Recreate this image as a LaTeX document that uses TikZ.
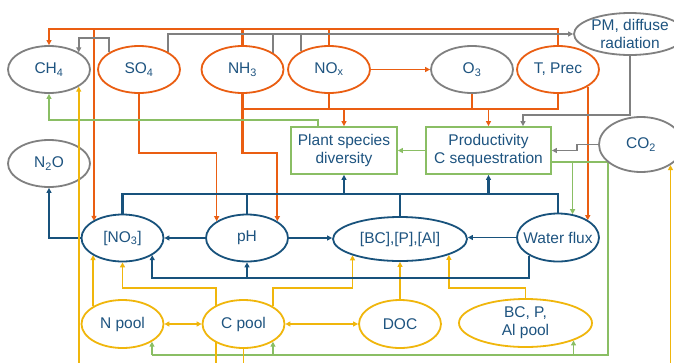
\documentclass[tikz,border=0pt]{standalone}
\usepackage{fontspec}
\setmainfont{Liberation Sans}
\usetikzlibrary{arrows.meta,shapes.geometric}
\pgfdeclarelayer{wires}
\pgfsetlayers{wires,main}
\definecolor{drv}{RGB}{234,94,18}
\definecolor{atm}{RGB}{128,128,128}
\definecolor{soil}{RGB}{24,82,124}
\definecolor{veg}{RGB}{138,190,100}
\definecolor{pool}{RGB}{240,182,12}
\definecolor{ink}{RGB}{30,84,128}

\begin{document}
\begin{tikzpicture}[x=1pt,y=-1pt,
  font=\fontsize{15.5}{18}\selectfont,
  ell/.style={ellipse, draw, line width=1.8pt, fill=white, text=ink, align=center,
    minimum width=82pt, minimum height=47pt, inner xsep=-45pt, inner ysep=-5pt},
  box/.style={rectangle, draw=veg, line width=1.8pt, fill=white, text=ink, align=center,
    minimum height=47pt, inner sep=0pt},
  wire/.style={line width=1.6pt},
  heavy/.style={line width=2.2pt},
  arr/.style={-{Triangle[length=5pt,width=5pt]}},
  arrs/.style={{Triangle[length=5pt,width=5pt]}-{Triangle[length=5pt,width=5pt]}},
]
\useasboundingbox (0,0) rectangle (674,362);

% drivers and atmosphere
\node[ell, draw=atm] (ch4) at (49,69.5) {CH\textsubscript{4}};
\node[ell, draw=drv] (so4) at (139,69.5) {SO\textsubscript{4}};
\node[ell, draw=drv] (nh3) at (242.5,69.5) {NH\textsubscript{3}};
\node[ell, draw=drv] (nox) at (329,69.5) {NO\textsubscript{x}};
\node[ell, draw=atm] (o3) at (472,69.5) {O\textsubscript{3}};
\node[ell, draw=drv] (tp) at (558,69.5) {T, Prec};
\node[ell, draw=atm, minimum width=112pt, minimum height=42pt] (pm) at (630,34) {PM, diffuse\\radiation};

% vegetation
\node[ell, draw=atm] (n2o) at (49,163.5) {N\textsubscript{2}O};
\node[box, minimum width=106pt] (plant) at (344,150.5) {Plant species\\diversity};
\node[box, minimum width=125pt] (prod) at (488.5,150.5) {Productivity\\C sequestration};
\node[ell, draw=atm, minimum width=84pt, minimum height=55pt] (co2) at (641,144.5) {CO\textsubscript{2}};

% soil solution
\node[ell, draw=soil] (no3) at (122.5,238) {[NO\textsubscript{3}]};
\node[ell, draw=soil] (ph) at (247,238) {pH};
\node[ell, draw=soil, minimum width=134pt, minimum height=44pt] (bc) at (400,239) {[BC],[P],[Al]};
\node[ell, draw=soil, minimum height=48pt] (wf) at (558,237.5) {Water flux};

% soil pools
\node[ell, draw=pool, minimum height=48pt] (np) at (122.5,324) {N pool};
\node[ell, draw=pool, minimum height=48pt] (cp) at (243.5,324) {C pool};
\node[ell, draw=pool, minimum height=48pt] (doc) at (400,324) {DOC};
\node[ell, draw=pool, minimum width=133pt, minimum height=48pt] (bcp) at (525.5,323) {BC, P,\\Al pool};

% routing levels
\coordinate (yTop) at (0,29);
\coordinate (ySo) at (0,38);
\coordinate (yOr) at (0,109);
\coordinate (yPm) at (0,115);
\coordinate (yGn) at (0,120);
\coordinate (yPh) at (0,153);
\coordinate (yNt) at (0,194);
\coordinate (yNb) at (0,278);
\coordinate (yYe) at (0,288);
\coordinate (yPool) at (0,355);
\coordinate (yEdge) at (0,364);
\coordinate (xNo) at (94,0);
\coordinate (xCo) at (577,0);
\coordinate (xGn) at (608,0);
\coordinate (xYe) at (216,0);

\begin{pgfonlayer}{wires}
  \fill[white] (0,0) rectangle (674,362);

  % deposition and climate drivers
  \draw[drv, heavy, arr] (tp.north) -- (tp.north |- yTop) -| (ch4.north);
  \draw[drv, heavy] (nh3.north) -- (nh3.north |- yTop);
  \draw[drv, heavy] (nox.north) -- (nox.north |- yTop);
  \draw[drv, heavy, arr] (xNo |- yTop) -- (xNo |- no3.150);
  \draw[drv, wire, arr] (so4.south) -- (so4.south |- yPh) -| (ph.151);
  \draw[drv, heavy, arr] (nh3.south) -- (nh3.south |- yPh) -| (ph.29);
  \draw[drv, heavy] (nh3.south |- yOr) -- (tp.south |- yOr) -- (tp.south);
  \draw[drv, heavy] (nox.south) -- (nox.south |- yOr);
  \draw[drv, heavy] (o3.south) -- (o3.south |- yOr);
  \draw[drv, wire, arr] (plant.north |- yOr) -- (plant.north);
  \draw[drv, wire, arr] (prod.north |- yOr) -- (prod.north);
  \draw[drv, wire, arr] (nox.east) -- (o3.west);
  \draw[drv, wire, arr] (tp.-30) -- (tp.-30 |- wf.30);

  % atmospheric links
  \draw[atm, wire, arr] (so4.150) -- (so4.150 |- ySo) -| (ch4.30);
  \draw[atm, wire, arr] (so4.31) |- (pm.west);
  \draw[atm, wire] (nh3.29) -- (nh3.29 |- pm.west);
  \draw[atm, wire] (nox.147) -- (nox.147 |- pm.west);
  \draw[atm, wire, arr] (pm.south) -- (pm.south |- yPm) -| ([xshift=34.5pt]prod.north);
  \draw[atm, wire, arr] (co2.west) -- (xCo |- co2.west) |- (prod.east);

  % vegetation feedbacks
  \draw[veg, wire, arr] (prod.west) -- (plant.east);
  \draw[veg, wire, arr] ([xshift=-26pt]plant.north) -- ([xshift=-26pt]plant.north |- yGn) -| (ch4.south);
  \coordinate (gOut) at ([yshift=-11.5pt]prod.east);
  \draw[veg, wire, arr] (gOut) -| (wf.58);
  \draw[veg, wire] (gOut) -- (xGn |- gOut) -- (xGn |- yPool) -- (np.-31 |- yPool);
  \draw[veg, wire, arr] (np.-31 |- yPool) -- (np.-31);
  \draw[veg, wire, arr] (cp.-31 |- yPool) -- (cp.-31);
  \draw[veg, wire, arr] (bcp.-20 |- yPool) -- (bcp.-20);

  % soil pools
  \draw[pool, wire, arr] (co2.-35 |- yEdge) -- (co2.-35);
  \draw[pool, wire, arr] (xYe |- yEdge) -- (xYe |- yYe) -| (no3.south);
  \draw[pool, wire] (cp.south) -- (cp.south |- yEdge);
  \draw[pool, wire, arr] (np.149) -- (np.149 |- no3.210);
  \draw[pool, wire, arrs] (np.east) -- (cp.west);
  \draw[pool, wire, arrs] (cp.east) -- (doc.west);
  \draw[pool, wire, arr] (cp.31) -- (cp.31 |- yYe) -| (bc.199);
  \draw[pool, wire, arr] (doc.north) -- (doc.north |- bc.south);
  \draw[pool, wire, arr] (bcp.north) -- (bcp.north |- yYe) -| (bc.-18);

  % soil solution chemistry
  \draw[soil, wire, arr] (no3.west) -| (n2o.south);
  \draw[soil, wire, arr] (ph.west) -- (no3.east);
  \draw[soil, wire, arr] (ph.east) -- (ph.east -| bc.west);
  \draw[soil, wire, arr] (wf.west) -- (wf.west -| bc.east);
  \draw[soil, heavy] (no3.north) -- (no3.north |- yNt) -- (wf.north |- yNt) -- (wf.north);
  \draw[soil, heavy] (ph.north) -- (ph.north |- yNt);
  \draw[soil, heavy] (bc.north) -- (bc.north |- yNt);
  \draw[soil, heavy, arr] (plant.south |- yNt) -- (plant.south);
  \draw[soil, heavy, arr] (prod.south |- yNt) -- (prod.south);
  \draw[soil, heavy, arr] (wf.212) -- (wf.212 |- yNb) -| (no3.-30);
  \draw[soil, heavy, arr] (ph.south |- yNb) -- (ph.south);
\end{pgfonlayer}

% carbon pool link to methane, crossing the N2O node
\draw[pool, wire, arr] (ch4.-30 |- yEdge) -- (ch4.-30);
\end{tikzpicture}
\end{document}
